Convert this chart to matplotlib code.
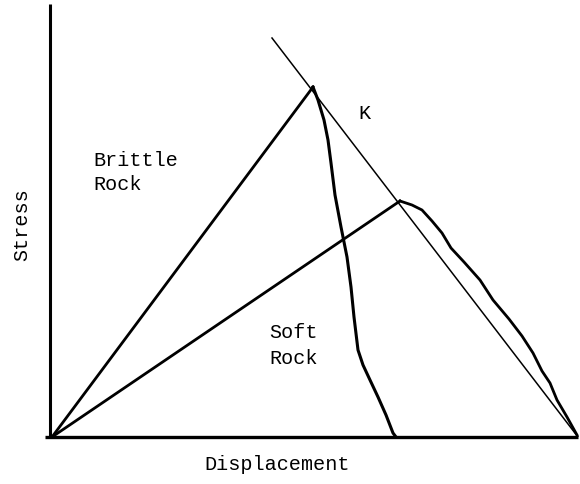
import matplotlib
matplotlib.use("Agg")
import matplotlib.pyplot as plt

# Coordinates are in pixel-like units: x to the right of the stress axis,
# y up from the displacement axis.
brittle_rise_x = [2, 263]
brittle_rise_y = [0, 350]
brittle_fall_x = [263, 268, 274, 278, 281, 285, 291, 297, 301, 304, 308, 313, 320, 328, 336, 343, 346]
brittle_fall_y = [350, 337, 317, 297, 274, 242, 210, 180, 150, 120, 87, 72, 57, 40, 22, 4, 0]

soft_rise_x = [2, 350]
soft_rise_y = [0, 236]
soft_fall_x = [350, 362, 372, 382, 392, 401, 414, 430, 443, 459, 472, 483, 492, 500, 507, 517, 527]
soft_fall_y = [236, 232, 227, 216, 204, 189, 175, 157, 137, 118, 101, 84, 66, 54, 37, 20, 2]

k_line_x = [222, 528]
k_line_y = [399, 0]

MONO = "Liberation Mono"

fig = plt.figure(figsize=(5.8, 4.84), dpi=100)
ax = fig.add_axes([50 / 580, 47 / 484, 530 / 580, 433 / 484])
ax.set_xlim(0, 530)
ax.set_ylim(0, 433)
ax.axis("off")

# axes drawn as lines
ax.plot([-5, 528], [0, 0], color="black", lw=2.4, solid_capstyle="butt", clip_on=False)
ax.plot([0, 0], [0, 433], color="black", lw=2.2, solid_capstyle="butt", clip_on=False)

ax.plot(k_line_x, k_line_y, color="black", lw=1.1)
ax.plot(brittle_rise_x, brittle_rise_y, color="black", lw=2.0)
ax.plot(brittle_fall_x, brittle_fall_y, color="black", lw=2.2)
ax.plot(soft_rise_x, soft_rise_y, color="black", lw=2.0)
ax.plot(soft_fall_x, soft_fall_y, color="black", lw=2.0)

ax.text(43, 277, "Brittle", family=MONO, fontsize=14.5, va="center", ha="left")
ax.text(43, 252, "Rock", family=MONO, fontsize=14.5, va="center", ha="left")
ax.text(219, 104, "Soft", family=MONO, fontsize=14.5, va="center", ha="left")
ax.text(219, 79, "Rock", family=MONO, fontsize=14.5, va="center", ha="left")
ax.text(308, 324, "K", family=MONO, fontsize=14.5, va="center", ha="left")

fig.text(22 / 580, 1 - 225 / 484, "Stress", family=MONO, fontsize=14.5,
         rotation=90, va="center", ha="center")
fig.text(277 / 580, 1 - 465 / 484, "Displacement", family=MONO, fontsize=14.5,
         va="center", ha="center")

fig.savefig("out.png", dpi=100)
